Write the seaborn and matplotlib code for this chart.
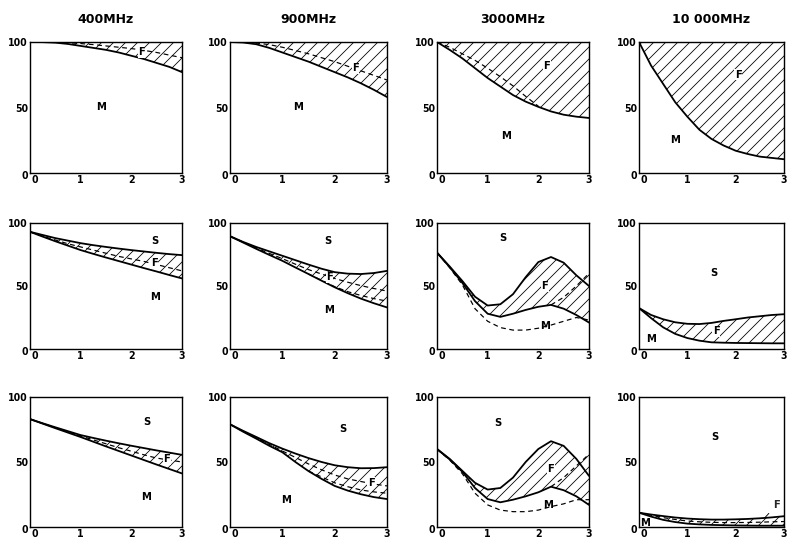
import numpy as np
import pandas as pd
import matplotlib
matplotlib.use("Agg")
import matplotlib.pyplot as plt
import matplotlib.transforms as mtransforms
import seaborn as sns

# ---------------- data ----------------
freq_titles = ["400MHz", "900MHz", "3000MHz", "10 000MHz"]
x_grid = [0, 0.25, 0.5, 0.75, 1.0, 1.25, 1.5, 1.75, 2.0, 2.25, 2.5, 2.75, 3.0]
x_ticks = [0, 1, 2, 3]
y_ticks = [0, 50, 100]
top_level = [100, 100, 100, 100, 100, 100, 100, 100, 100, 100, 100, 100, 100]

# row 1 : upper boundary is 100 (top of the frame)
r1_400_lower = [100, 99.9, 99.5, 98.5, 97, 95.5, 94, 92, 89.5, 87, 84, 81, 77]
r1_400_dash = [100, 99.9, 99.8, 99.4, 98.8, 98, 97, 96, 95, 93.6, 92, 90, 88]
r1_900_lower = [100, 99.6, 98.3, 95.5, 92, 88.5, 85, 81, 77, 73, 68.5, 63.5, 58]
r1_900_dash = [100, 99.8, 99.2, 98, 96, 93.5, 91, 88, 85, 81.5, 78, 74.5, 71]
r1_3000_lower = [100, 94, 87.5, 80, 72.5, 66, 59.5, 54.5, 50.5, 47, 44.5, 43, 42]
r1_3000_dash_x = [0, 0.25, 0.5, 0.75, 1.0, 1.25, 1.5, 1.75, 2.0]
r1_3000_dash = [100, 96, 91, 86, 80, 73.5, 66.5, 58.5, 51]
r1_10000_lower = [100, 82, 68, 54, 43, 33, 26, 21, 17, 14.5, 12.5, 11.5, 10.5]

# row 2
r2_400_upper = [93, 90.5, 88, 86, 84, 82.4, 81, 79.7, 78.5, 77.4, 76.3, 75.3, 74.5]
r2_400_lower = [93, 89.2, 85.5, 82, 78.5, 75.5, 72.6, 69.8, 67, 64.2, 61.5, 58.7, 56]
r2_400_dash = [93, 89.5, 86.5, 83.5, 81, 78.5, 76, 73.5, 71.5, 69.5, 67, 64.5, 62]
r2_900_upper = [89.5, 85, 81, 77.5, 74, 70.5, 67, 63.7, 61, 59.8, 59.5, 60.3, 62]
r2_900_lower = [89.5, 84.5, 79.5, 74.7, 70, 64.7, 59.5, 54.2, 49, 44.3, 40, 36.3, 33]
r2_900_dash = [89.5, 84.8, 80.2, 75.9, 71.7, 67.3, 63, 59.5, 56, 53, 50.3, 48, 46]
r2_900_dash2_x = [1.5, 1.75, 2.0, 2.25, 2.5, 2.75, 3.0]
r2_900_dash2 = [59.5, 54.5, 49.5, 45.5, 42.5, 40, 38]
r2_3000_upper = [76.5, 65.5, 54, 41.5, 34.5, 35.5, 43.5, 57, 69, 73, 68.5, 58.5, 50]
r2_3000_lower = [76.5, 65, 52.5, 38, 28, 25.5, 28, 31, 33.5, 35, 32, 27, 21]
r2_3000_dash = [76.5, 64.5, 51, 32, 22, 17, 15, 15, 16.5, 19, 22, 25, 23]
r2_3000_rise_x = [2.25, 2.5, 2.75, 3.0]
r2_3000_rise = [35, 41, 50, 60]
r2_10000_upper = [32.5, 27, 23.6, 21.2, 20, 19.8, 20.7, 22.3, 23.6, 25, 26, 27, 27.6]
r2_10000_lower = [32.5, 24.5, 17.2, 12, 8.7, 6.6, 5.3, 5, 4.8, 4.7, 4.6, 4.5, 4.5]

# row 3
r3_400_upper = [83, 79.8, 76.7, 73.7, 70.7, 68.5, 66.4, 64.4, 62.5, 60.7, 58.9, 57.2, 55.5]
r3_400_lower = [83, 79.5, 76, 72.6, 69.2, 65.6, 62, 58.5, 55, 51.5, 48, 44.6, 41.2]
r3_400_dash = [83, 79.7, 76.4, 73.2, 70, 67, 64, 61, 58.3, 55.5, 53, 51.5, 50]
r3_900_upper = [79, 74, 69.3, 64.5, 60.3, 56.5, 53, 50, 47.5, 46, 45.2, 45.3, 46]
r3_900_lower = [79, 73.3, 68, 62.5, 57.5, 50, 43, 37, 31.6, 28, 25.2, 23, 21.5]
r3_900_dash = [79, 73.5, 68.5, 63.5, 58.5, 53.5, 48.5, 44, 40, 37, 35, 33, 31.6]
r3_900_dash2_x = [1.5, 1.75, 2.0, 2.25, 2.5, 2.75, 3.0]
r3_900_dash2 = [43, 38.5, 34, 31, 28.5, 27, 26]
r3_3000_upper = [60, 52.4, 43.2, 34, 28.8, 30, 38, 50, 60, 66, 62.4, 52.4, 39.3]
r3_3000_lower = [60, 52, 42.5, 30, 21.5, 19, 21, 23.6, 26.7, 31, 28.3, 23.6, 17]
r3_3000_dash = [60, 51.5, 41, 26, 17, 13, 11.8, 11.8, 13, 15.7, 17.8, 21, 21]
r3_3000_rise_x = [2.25, 2.5, 2.75, 3.0]
r3_3000_rise = [31, 38, 47, 56]
r3_10000_upper = [11, 9.6, 8.4, 7.3, 6.5, 6, 5.7, 5.7, 5.9, 6.2, 6.7, 7.4, 8.3]
r3_10000_lower = [11, 8, 5.5, 3.8, 2.6, 2, 1.6, 1.4, 1.2, 1.1, 1, 1, 1]
r3_10000_dash = [11, 9, 7.2, 5.8, 4.6, 4, 3.6, 3.4, 3.4, 3.5, 3.7, 4, 4.2]

# ---------------- panel definitions ----------------
panels = [
    # row 1
    dict(upper=top_level, lower=r1_400_lower, upper_line=False,
         dashes=[(x_grid, r1_400_dash)], rise=None,
         labels=[("F", 2.2, 92), ("M", 1.4, 50)]),
    dict(upper=top_level, lower=r1_900_lower, upper_line=False,
         dashes=[(x_grid, r1_900_dash)], rise=None,
         labels=[("F", 2.4, 80), ("M", 1.3, 50)]),
    dict(upper=top_level, lower=r1_3000_lower, upper_line=False,
         dashes=[(r1_3000_dash_x, r1_3000_dash)], rise=None,
         labels=[("F", 2.17, 82), ("M", 1.37, 28)]),
    dict(upper=top_level, lower=r1_10000_lower, upper_line=False,
         dashes=[], rise=None,
         labels=[("F", 2.05, 75), ("M", 0.75, 25)]),
    # row 2
    dict(upper=r2_400_upper, lower=r2_400_lower, upper_line=True,
         dashes=[(x_grid, r2_400_dash)], rise=None,
         labels=[("S", 2.47, 86), ("F", 2.45, 68), ("M", 2.47, 41)]),
    dict(upper=r2_900_upper, lower=r2_900_lower, upper_line=True,
         dashes=[(x_grid, r2_900_dash), (r2_900_dash2_x, r2_900_dash2)], rise=None,
         labels=[("S", 1.87, 86), ("F", 1.9, 57), ("M", 1.9, 31)]),
    dict(upper=r2_3000_upper, lower=r2_3000_lower, upper_line=True,
         dashes=[(x_grid, r2_3000_dash)], rise=(r2_3000_rise_x, r2_3000_rise),
         labels=[("S", 1.3, 88), ("F", 2.13, 50), ("M", 2.13, 18)]),
    dict(upper=r2_10000_upper, lower=r2_10000_lower, upper_line=True,
         dashes=[], rise=None,
         labels=[("S", 1.55, 60), ("F", 1.6, 14), ("M", 0.25, 8)]),
    # row 3
    dict(upper=r3_400_upper, lower=r3_400_lower, upper_line=True,
         dashes=[(x_grid, r3_400_dash)], rise=None,
         labels=[("S", 2.3, 81), ("F", 2.7, 52), ("M", 2.3, 23)]),
    dict(upper=r3_900_upper, lower=r3_900_lower, upper_line=True,
         dashes=[(x_grid, r3_900_dash), (r3_900_dash2_x, r3_900_dash2)], rise=None,
         labels=[("S", 2.16, 75), ("F", 2.7, 34), ("M", 1.08, 21)]),
    dict(upper=r3_3000_upper, lower=r3_3000_lower, upper_line=True,
         dashes=[(x_grid, r3_3000_dash)], rise=(r3_3000_rise_x, r3_3000_rise),
         labels=[("S", 1.2, 80), ("F", 2.25, 45), ("M", 2.2, 17)]),
    dict(upper=r3_10000_upper, lower=r3_10000_lower, upper_line=True,
         dashes=[(x_grid, r3_10000_dash)], rise=None,
         labels=[("S", 1.57, 69), ("M", 0.12, 3)]),
]

# ---------------- layout (pixels) ----------------
W, H, DPI = 789, 542, 72
col_left = [30, 230, 437, 639]
col_width = [152, 157, 152, 145]
row_top = [42, 223, 397]
row_height = [131, 126, 130]

sns.set_theme(style="white")
plt.rcParams["font.family"] = ["DejaVu Sans"]
plt.rcParams["hatch.linewidth"] = 0.8
plt.rcParams["hatch.color"] = "black"

fig = plt.figure(figsize=(W / DPI, H / DPI), dpi=DPI)
fig.patch.set_facecolor("white")

xg = np.array(x_grid)
for i, p in enumerate(panels):
    r, c = divmod(i, 4)
    l, t, w, h = col_left[c], row_top[r], col_width[c], row_height[r]
    ax = fig.add_axes([l / W, 1 - (t + h) / H, w / W, h / H])
    ax.set_facecolor("white")

    lower = np.array(p["lower"], dtype=float)
    upper = np.array(p["upper"], dtype=float)
    env = upper.copy()
    if p["rise"] is not None:
        rx, ry = p["rise"]
        idx = [x_grid.index(v) for v in rx]
        env[idx] = np.maximum(env[idx], np.array(ry))

    ax.fill_between(xg, lower, env, facecolor="none", edgecolor="black",
                    hatch="//", linewidth=0)

    sns.lineplot(x=xg, y=lower, ax=ax, color="black", linewidth=1.8)
    if p["upper_line"]:
        sns.lineplot(x=xg, y=upper, ax=ax, color="black", linewidth=1.8)
    for dx, dy in p["dashes"]:
        sns.lineplot(x=np.array(dx), y=np.array(dy), ax=ax, color="black",
                     linewidth=1.2, linestyle=(0, (4, 3)))
    if p["rise"] is not None:
        rx, ry = p["rise"]
        sns.lineplot(x=np.array(rx), y=np.array(ry), ax=ax, color="black",
                     linewidth=1.2, linestyle=(0, (4, 3)))

    for txt, lx, ly in p["labels"]:
        bb = dict(facecolor="white", edgecolor="none", pad=0.5) if txt == "F" else None
        ax.text(lx, ly, txt, ha="center", va="center", fontsize=10,
                fontweight="bold", color="black", bbox=bb)
    if i == 11:
        ax.annotate("F", xy=(2.6, 7), xytext=(2.85, 17), fontsize=10,
                    fontweight="bold", ha="center", va="center",
                    arrowprops=dict(arrowstyle="-", color="black", lw=0.9,
                                    shrinkA=3, shrinkB=0))

    ax.set_xlim(0, 3)
    ax.set_ylim(0, 100)
    ax.set_xticks(x_ticks)
    ax.set_yticks(y_ticks)
    ax.set_xticklabels([str(v) for v in x_ticks], fontsize=9.5, fontweight="bold")
    ax.set_yticklabels([str(v) for v in y_ticks], fontsize=9.5, fontweight="bold")
    ax.tick_params(axis="x", direction="in", length=8, width=1.3, pad=2,
                   colors="black")
    ax.tick_params(axis="y", direction="in", length=10, width=1.3, pad=2,
                   colors="black")
    lab0 = ax.get_xticklabels()[0]
    lab0.set_transform(lab0.get_transform() +
                       mtransforms.ScaledTranslation(5 / 72, 0, fig.dpi_scale_trans))
    laby0 = ax.get_yticklabels()[0]
    laby0.set_transform(laby0.get_transform() +
                        mtransforms.ScaledTranslation(0, -2 / 72, fig.dpi_scale_trans))
    ax.set_xlabel("")
    ax.set_ylabel("")
    for s in ax.spines.values():
        s.set_visible(True)
        s.set_color("black")
        s.set_linewidth(1.4)

    if r == 0:
        ttl = ax.text(0.5, 1.0, freq_titles[c], ha="center", va="bottom",
                      fontsize=12.5, fontweight="bold", color="black",
                      transform=ax.transAxes +
                      mtransforms.ScaledTranslation(0, 16 / 72, fig.dpi_scale_trans))

fig.savefig("out.png", dpi=DPI, facecolor="white")
